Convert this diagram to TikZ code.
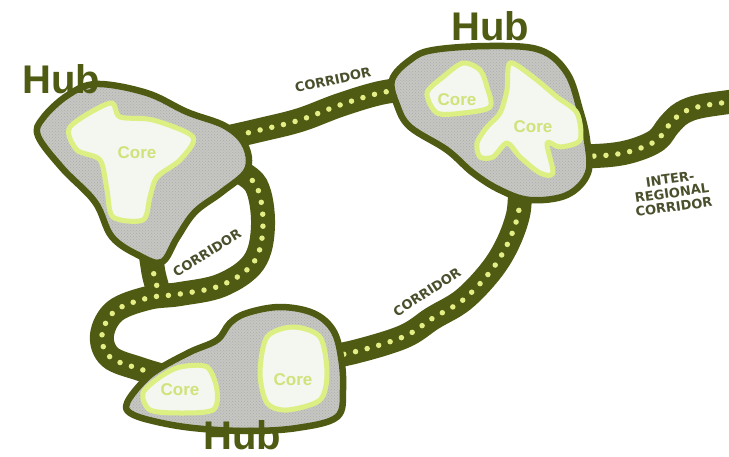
\documentclass[tikz,border=0pt]{standalone}
\usepackage{fontspec}
\setmainfont{Liberation Sans}
\newfontfamily\labelfont{DejaVu Sans}
\usetikzlibrary{patterns}
\definecolor{hubolive}{HTML}{4F5A12}
\definecolor{dotyellow}{HTML}{E4EE86}
\definecolor{hubgray}{HTML}{C6C7C3}
\definecolor{hubtex}{HTML}{ACADA8}
\definecolor{corefill}{HTML}{F4F6F0}
\definecolor{coreline}{HTML}{DCEF82}
\definecolor{coretext}{HTML}{CFE37A}
\definecolor{labelgray}{HTML}{4A4F2C}
\newcommand\corridorpath[1]{\draw[corr] #1; \draw[corrdots] #1;}
\newcommand\hubpath[1]{\path[hubshape] #1; \path[hubtexture] #1; \draw[hubline] #1;}
\tikzset{
  corr/.style={line width=24pt, draw=hubolive, line cap=butt},
  corrdots/.style={line width=5.5pt, draw=dotyellow, line cap=round, dash pattern=on 0pt off 12pt},
  hubshape/.style={fill=hubgray},
  hubtexture/.style={pattern=crosshatch dots, pattern color=hubtex},
  hubline/.style={draw=hubolive, line width=6.5pt, line join=round},
  coreshape/.style={draw=coreline, line width=5pt, fill=corefill, line join=round},
  hublabel/.style={text=hubolive, font=\fontsize{40}{40}\selectfont\bfseries, inner sep=0pt, text depth=0pt, anchor=base},
  corelabel/.style={text=coretext, font=\fontsize{17}{17}\selectfont\bfseries, inner sep=0pt},
  corrlabel/.style={text=labelgray, font=\labelfont\fontsize{13}{14}\selectfont\bfseries, inner sep=0pt, align=center}
}
\begin{document}
\begin{tikzpicture}[x=1pt,y=-1pt]
\useasboundingbox (0,0) rectangle (729,457);
\fill[white] (0,0) rectangle (729,457);
% corridors
\corridorpath{plot[smooth, tension=0.6] coordinates {(225,138) (260,130) (300,120) (340,105) (380,93) (415,88)}}
\corridorpath{plot[smooth, tension=0.6] coordinates {(232,168) (256,185) (263,225) (254,262) (222,285) (180,294) (148,298) (115,311) (102,335) (110,357) (140,369) (170,378)}}
\corridorpath{plot[smooth, tension=0.6] coordinates {(150,250) (152,263) (154,275) (158,290)}}
\corridorpath{plot[smooth, tension=0.6] coordinates {(320,357) (350,353) (403,337) (433,318) (463,300) (490,272) (507,245) (518,215) (520,190)}}
\corridorpath{plot[smooth, tension=0.6] coordinates {(570,157) (610,155) (635,150) (657,140) (669,125) (682,113) (702,106) (745,100)}}
% hubs
\hubpath{plot[smooth cycle, tension=0.6] coordinates {(43,118) (68,95) (97,84) (147,93) (187,112) (225,126) (245,145) (247,170) (222,192) (195,212) (177,238) (162,262) (140,256) (112,237) (95,202) (62,168) (38,136)}}
\hubpath{plot[smooth cycle, tension=0.6] coordinates {(392,80) (410,60) (433,50) (490,46) (540,50) (567,73) (580,110) (587,140) (588,173) (567,195) (530,200) (500,190) (473,173) (447,150) (410,127) (397,105)}}
\hubpath{plot[smooth cycle, tension=0.6] coordinates {(127,403) (140,385) (157,370) (190,352) (217,340) (230,323) (247,313) (280,307) (313,313) (333,330) (341,357) (343,390) (337,417) (297,428) (247,431) (193,428) (153,421) (130,413)}}
% cores
\path[coreshape] plot[smooth cycle, tension=0.5] coordinates {(70,127) (110,103) (120,117) (153,120) (193,137) (180,160) (157,177) (150,197) (143,220) (113,217) (107,190) (100,160) (77,150)};
\path[coreshape] plot[smooth cycle, tension=0.5] coordinates {(427,93) (443,77) (463,63) (480,70) (487,87) (490,107) (463,113) (437,113)};
\path[coreshape] plot[smooth cycle, tension=0.5] coordinates {(510,63) (533,77) (557,97) (577,113) (580,140) (560,147) (547,143) (553,173) (540,173) (520,157) (507,143) (493,157) (480,157) (477,143) (487,127) (500,113) (507,90)};
\path[coreshape] plot[smooth cycle, tension=0.5] coordinates {(143,393) (160,377) (180,367) (207,367) (217,390) (213,410) (180,413) (150,410)};
\path[coreshape] plot[smooth cycle, tension=0.5] coordinates {(267,337) (293,327) (320,337) (327,373) (320,400) (287,410) (267,403) (260,373)};
% labels
\node[hublabel] (hubTL) at (61,94) {Hub};
\node[hublabel] (hubTR) at (490,41) {Hub};
\node[hublabel] (hubB) at (242,449) {Hub};
\node[corelabel] (coreTL) at (137,153) {Core};
\node[corelabel] (coreTR1) at (457,100) {Core};
\node[corelabel] (coreTR2) at (533,127) {Core};
\node[corelabel] (coreB1) at (180,390) {Core};
\node[corelabel] (coreB2) at (293,380) {Core};
\node[corrlabel, rotate=12] (corrTop) at (333,80) {CORRIDOR};
\node[corrlabel, rotate=32] (corrLoop) at (207,253) {CORRIDOR};
\node[corrlabel, rotate=33] (corrMid) at (427,292) {CORRIDOR};
\node[corrlabel, rotate=8] (corrInter) at (672,193) {INTER-\\REGIONAL\\CORRIDOR};
\end{tikzpicture}
\end{document}
